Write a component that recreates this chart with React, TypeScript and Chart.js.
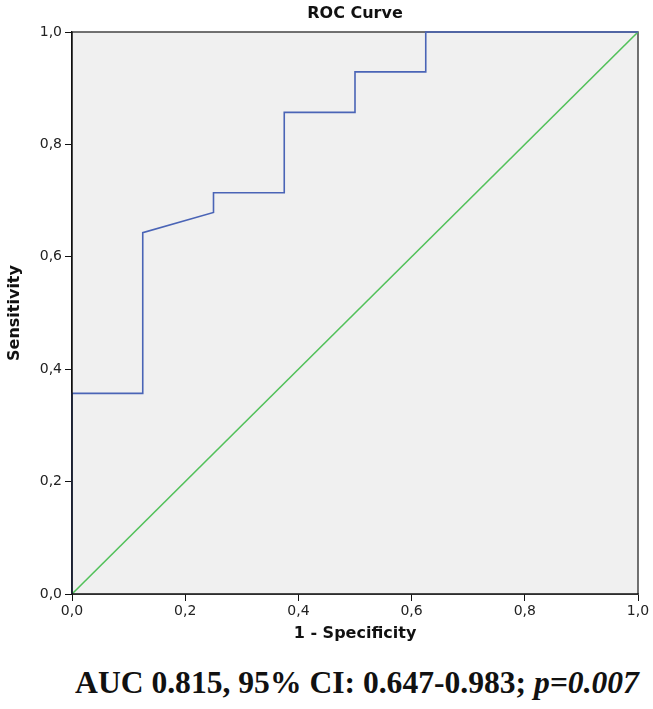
import React, { useEffect, useRef } from "react";
import { Chart, registerables } from "chart.js";

Chart.register(...registerables);

// ROC curve data (1 - specificity, sensitivity)
const rocFpr = [0, 0, 0.125, 0.125, 0.25, 0.25, 0.375, 0.375, 0.5, 0.5, 0.625, 0.625, 1];
const rocTpr = [0, 0.357, 0.357, 0.643, 0.679, 0.714, 0.714, 0.857, 0.857, 0.929, 0.929, 1, 1];
// Reference (chance) line
const refX = [0, 1];
const refY = [0, 1];

const chartTitle = "ROC Curve";
const xTitle = "1 - Specificity";
const yTitle = "Sensitivity";
const tickValues = [0, 0.2, 0.4, 0.6, 0.8, 1.0];

const fmt = (v: number) => v.toFixed(1).replace(".", ",");

const plotBgPlugin = {
  id: "plotBg",
  beforeDatasetsDraw(chart: any) {
    const { ctx, chartArea } = chart;
    ctx.save();
    ctx.fillStyle = "#f0f0f0";
    ctx.fillRect(chartArea.left, chartArea.top, chartArea.right - chartArea.left, chartArea.bottom - chartArea.top);
    ctx.strokeStyle = "#444";
    ctx.lineWidth = 1.5;
    ctx.beginPath();
    ctx.moveTo(chartArea.left, chartArea.top);
    ctx.lineTo(chartArea.right, chartArea.top);
    ctx.lineTo(chartArea.right, chartArea.bottom);
    ctx.stroke();
    ctx.restore();
  },
  afterDatasetsDraw(chart: any) {
    const { ctx, chartArea } = chart;
    ctx.save();
    ctx.strokeStyle = "#111";
    ctx.lineWidth = 1.5;
    ctx.beginPath();
    ctx.moveTo(chartArea.left, chartArea.top);
    ctx.lineTo(chartArea.left, chartArea.bottom);
    ctx.lineTo(chartArea.right, chartArea.bottom);
    ctx.stroke();
    ctx.restore();
  },
};

export default function App() {
  const ref = useRef<HTMLCanvasElement | null>(null);

  useEffect(() => {
    if (!ref.current) return;
    const chart = new Chart(ref.current, {
      type: "scatter",
      data: {
        datasets: [
          {
            label: "ROC",
            data: rocFpr.map((x, i) => ({ x, y: rocTpr[i] })),
            showLine: true,
            borderColor: "#4a64b6",
            borderWidth: 1.6,
            pointRadius: 0,
            tension: 0,
            clip: 4,
          },
          {
            label: "Reference",
            data: refX.map((x, i) => ({ x, y: refY[i] })),
            showLine: true,
            borderColor: "#52c15a",
            borderWidth: 1.6,
            pointRadius: 0,
            tension: 0,
            clip: 4,
          },
        ],
      },
      options: {
        responsive: false,
        animation: false,
        layout: { padding: { left: 0, right: 15, top: 0, bottom: 0 } },
        plugins: {
          legend: { display: false },
          tooltip: { enabled: false },
          title: {
            display: true,
            fullSize: false,
            text: chartTitle,
            color: "#111",
            font: { family: "DejaVu Sans", size: 16, weight: "bold", lineHeight: 1.2 },
            padding: { top: 4, bottom: 8.8 },
          },
        },
        scales: {
          x: {
            type: "linear",
            min: 0,
            max: 1,
            afterBuildTicks: (s: any) => {
              s.ticks = tickValues.map((v) => ({ value: v }));
            },
            afterFit: (s: any) => {
              s.height = 56;
            },
            ticks: {
              callback: (v: any) => fmt(Number(v)),
              color: "#222",
              font: { family: "DejaVu Sans", size: 14 },
              padding: 2,
              maxRotation: 0,
            },
            grid: { display: true, drawOnChartArea: false, drawTicks: true, tickLength: 7, color: "#111" },
            border: { display: true, color: "#111", width: 1.5 },
            title: {
              display: true,
              text: xTitle,
              color: "#111",
              font: { family: "DejaVu Sans", size: 16, weight: "bold", lineHeight: 1.2 },
              padding: { top: 0, bottom: 7 },
            },
          },
          y: {
            type: "linear",
            min: 0,
            max: 1,
            afterBuildTicks: (s: any) => {
              s.ticks = tickValues.map((v) => ({ value: v }));
            },
            afterFit: (s: any) => {
              s.width = 72;
            },
            ticks: {
              callback: (v: any) => fmt(Number(v)),
              color: "#222",
              font: { family: "DejaVu Sans", size: 14 },
              padding: 3,
            },
            grid: { display: true, drawOnChartArea: false, drawTicks: true, tickLength: 7, color: "#111" },
            border: { display: true, color: "#111", width: 1.5 },
            title: {
              display: true,
              text: yTitle,
              color: "#111",
              font: { family: "DejaVu Sans", size: 16, weight: "bold", lineHeight: 1.2 },
              padding: { top: 5, bottom: 0 },
            },
          },
        },
      },
      plugins: [plotBgPlugin],
    });
    return () => chart.destroy();
  }, []);

  return (
    <div style={{ position: "absolute", left: 0, top: 0, width: 653, height: 709, background: "#fff" }}>
      <canvas ref={ref} width={653} height={650} style={{ display: "block", width: 653, height: 650 }} />
      <div
        style={{
          position: "absolute",
          left: 0,
          width: 714,
          top: 667,
          textAlign: "center",
          fontFamily: "'Liberation Serif', 'Times New Roman', serif",
          fontWeight: "bold",
          fontSize: 31.6,
          lineHeight: "31px",
          color: "#111",
          whiteSpace: "nowrap",
        }}
      >
        AUC 0.815, 95% CI: 0.647-0.983; <i>p=0.007</i>
      </div>
    </div>
  );
}
